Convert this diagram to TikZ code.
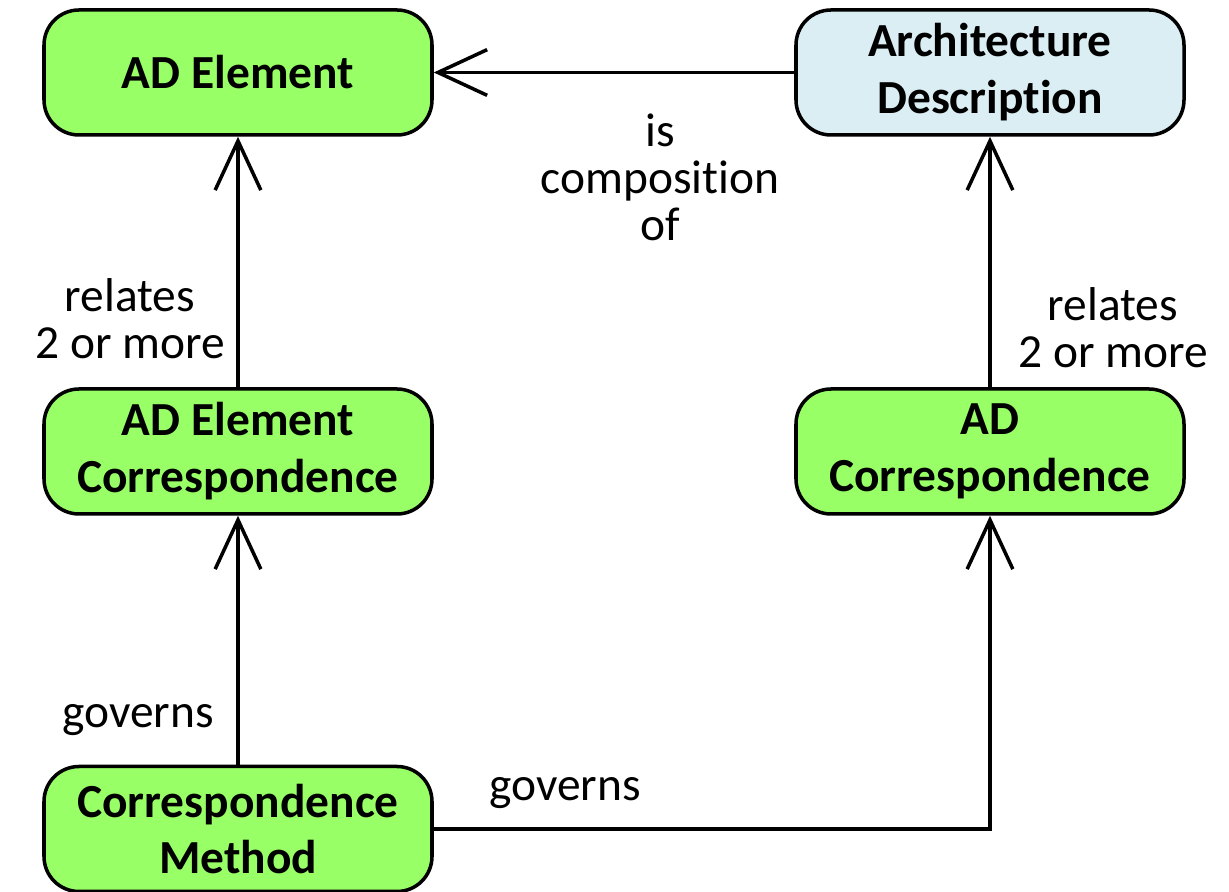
\documentclass[tikz,border=0pt]{standalone}
\usepackage{fontspec}
\setmainfont{Carlito}[Ligatures=NoCommon]
\usetikzlibrary{arrows.meta}

\definecolor{boxgreen}{HTML}{99FF66}
\definecolor{boxblue}{HTML}{DAEEF3}

\begin{document}
\begin{tikzpicture}[
    line width=1pt,
    entity/.style={draw, rounded corners=0.35cm, minimum width=3.88cm,
      minimum height=1.25cm, align=center, fill=boxgreen,
      font=\fontsize{13.5}{16.2}\selectfont\bfseries},
    lbl/.style={align=center, font=\fontsize{13.5}{13.4}\selectfont},
    assoc/.style={-{Straight Barb[length=14pt,width=13pt]}}
  ]
  \useasboundingbox (0,0) rectangle (12.29,8.92);

  % Boxes
  \node[entity] (adelem) at (2.38,8.195) {AD Element};
  \node[entity, fill=boxblue] (archdesc) at (9.90,8.195) {Architecture\\Description};
  \node[entity] (adelemcorr) at (2.38,4.405) {AD Element\\Correspondence};
  \node[entity] (adcorr) at (9.90,4.405) {AD\\Correspondence};
  \node[entity] (corrmethod) at (2.38,0.63) {Correspondence\\Method};

  % Connectors
  \draw[assoc] (archdesc.west) -- (adelem.east);
  \draw[assoc] (adelemcorr.north) -- (adelem.south);
  \draw[assoc] (adcorr.north) -- (archdesc.south);
  \draw[assoc] (corrmethod.north) -- (adelemcorr.south);
  \draw[assoc] (corrmethod.east) -| (adcorr.south);

  % Labels
  \node[lbl] (lcomp) at (6.60,7.15) {is\\composition\\of};
  \node[lbl] (lrelleft) at (1.30,5.73) {relates\\2 or more};
  \node[lbl] (lrelright) at (11.13,5.64) {relates\\2 or more};
  \node[lbl] (lgovleft) at (1.38,1.72) {governs};
  \node[lbl] (lgovbottom) at (5.65,0.99) {governs};
\end{tikzpicture}
\end{document}
